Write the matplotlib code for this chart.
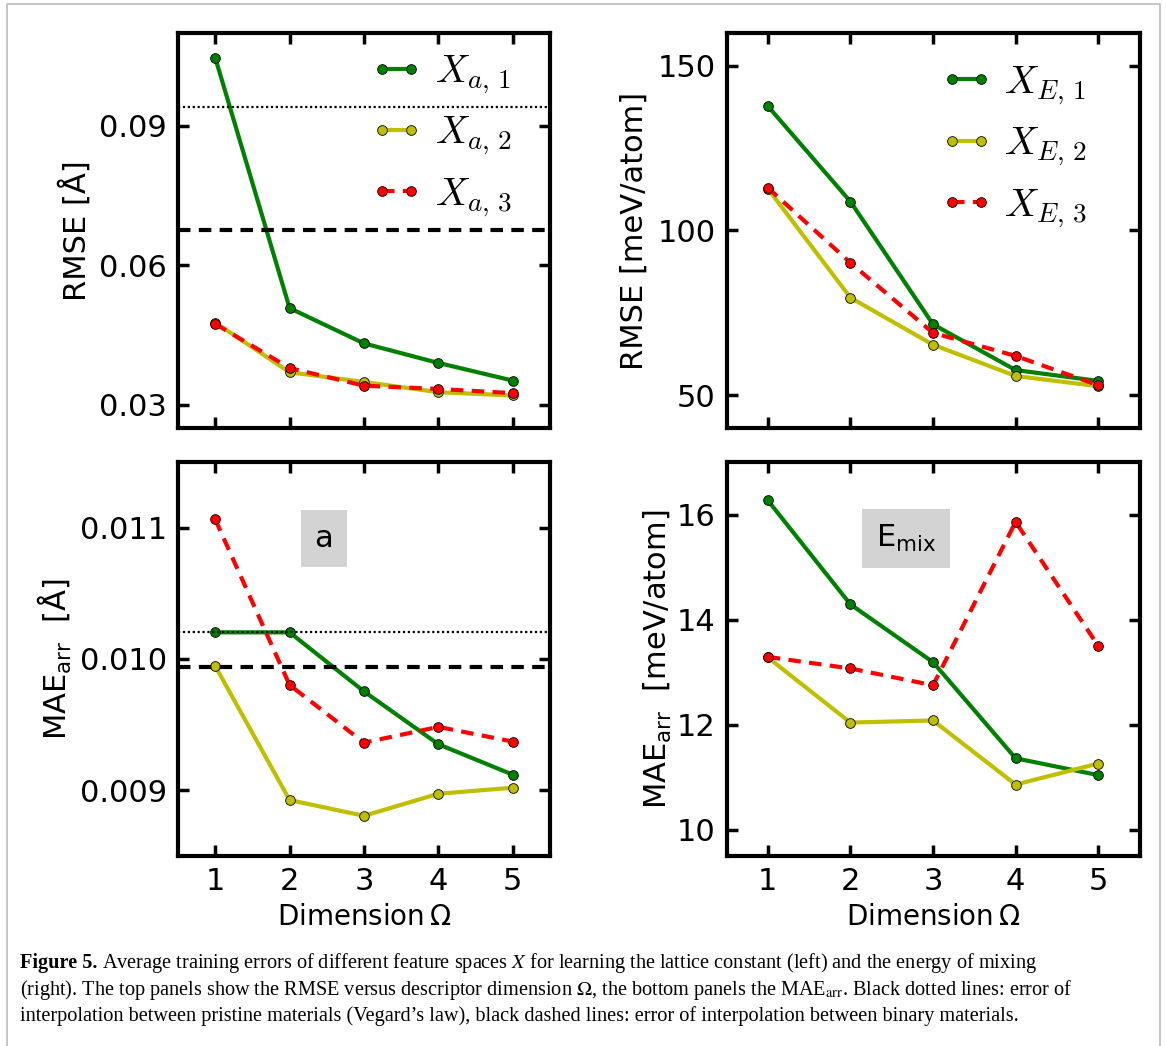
import matplotlib
matplotlib.use("Agg")
import matplotlib.pyplot as plt
from matplotlib.font_manager import FontProperties
from matplotlib.patches import Rectangle
from matplotlib.lines import Line2D
from matplotlib.legend_handler import HandlerLine2D

# ---------------- data ----------------
dims = [1, 2, 3, 4, 5]

rmse_a1 = [0.1047, 0.0508, 0.0432, 0.0390, 0.0352]
rmse_a2 = [0.0477, 0.0370, 0.0349, 0.0327, 0.0320]
rmse_a3 = [0.0474, 0.0379, 0.0341, 0.0334, 0.0325]
rmse_a_vegard = 0.0940
rmse_a_binary = 0.0677

rmse_E1 = [137.8, 108.8, 71.5, 57.6, 54.3]
rmse_E2 = [112.7, 79.6, 65.3, 55.8, 52.7]
rmse_E3 = [113.0, 90.2, 68.9, 61.9, 53.0]

mae_a1 = [0.010203, 0.010203, 0.009753, 0.009351, 0.009119]
mae_a2 = [0.009947, 0.008926, 0.008806, 0.008974, 0.009020]
mae_a3 = [0.011063, 0.009802, 0.009363, 0.009483, 0.009371]
mae_a_vegard = 0.010203
mae_a_binary = 0.009941

mae_E1 = [16.27, 14.29, 13.19, 11.36, 11.04]
mae_E2 = [13.28, 12.04, 12.08, 10.86, 11.26]
mae_E3 = [13.29, 13.07, 12.75, 15.86, 13.50]

labels_a = [r"$X_{a,\,1}$", r"$X_{a,\,2}$", r"$X_{a,\,3}$"]
labels_E = [r"$X_{E,\,1}$", r"$X_{E,\,2}$", r"$X_{E,\,3}$"]

yt_rmse_a = [0.03, 0.06, 0.09]
ytl_rmse_a = ["0.03", "0.06", "0.09"]
yt_rmse_E = [50, 100, 150]
ytl_rmse_E = ["50", "100", "150"]
yt_mae_a = [0.009, 0.010, 0.011]
ytl_mae_a = ["0.009", "0.010", "0.011"]
yt_mae_E = [10, 12, 14, 16]
ytl_mae_E = ["10", "12", "14", "16"]
xticklabels = ["1", "2", "3", "4", "5"]

caption_bold = "Figure 5."
caption_lines = [
    " Average training errors of different feature spaces $X$ for learning the lattice constant (left) and the energy of mixing",
    "(right). The top panels show the RMSE versus descriptor dimension $\\Omega$, the bottom panels the MAE$_{\\mathrm{arr}}$. Black dotted lines: error of",
    "interpolation between pristine materials (Vegard\u2019s law), black dashed lines: error of interpolation between binary materials.",
]

# ---------------- style ----------------
plt.rcParams["font.family"] = ["DejaVu Sans"]
plt.rcParams["mathtext.fontset"] = "dejavusans"

W, H = 1167, 1046
fig = plt.figure(figsize=(W / 100, H / 100), dpi=100)
fig.patch.set_facecolor("white")

def px_axes(l, r, t, b):
    return fig.add_axes([l / W, 1 - b / H, (r - l) / W, (b - t) / H])

ax_tl = px_axes(178, 550, 33, 428)
ax_bl = px_axes(178, 550, 462, 856)
ax_tr = px_axes(726.5, 1139.5, 33, 428)
ax_br = px_axes(726.5, 1139.5, 462, 856)

GREEN = (0.0, 0.5, 0.0)
YELLOW = (0.75, 0.75, 0.0)
RED = (1.0, 0.0, 0.0)

def series(ax, y1, y2, y3, labels):
    kw = dict(marker="o", markersize=7, markeredgecolor="black", markeredgewidth=0.6)
    ax.plot(dims, y1, color=GREEN, lw=3, label=labels[0], markerfacecolor=GREEN, **kw)
    ax.plot(dims, y2, color=YELLOW, lw=3, label=labels[1], markerfacecolor=YELLOW, **kw)
    ax.plot(dims, y3, color=RED, lw=3, ls=(0, (3, 2)), label=labels[2], markerfacecolor=RED, **kw)

def style(ax, yt, ytl, ylim, show_x):
    ax.set_xlim(0.5, 5.5)
    ax.set_ylim(*ylim)
    ax.set_xticks(dims)
    ax.set_yticks(yt)
    ax.set_yticklabels(ytl)
    if show_x:
        ax.set_xticklabels(xticklabels)
        ax.set_xlabel(r"Dimension$\,\Omega$", fontsize=20, labelpad=5)
    else:
        ax.set_xticklabels([])
    ax.tick_params(direction="in", length=8, width=2.5, top=True, right=True,
                   labelsize=22, pad=8)
    for s in ax.spines.values():
        s.set_linewidth(3)

# top-left
series(ax_tl, rmse_a1, rmse_a2, rmse_a3, labels_a)
ax_tl.axhline(rmse_a_vegard, color="black", lw=1.6, ls=(0, (1, 1.2)))
ax_tl.axhline(rmse_a_binary, color="black", lw=3, ls=(0, (3, 2)))
style(ax_tl, yt_rmse_a, ytl_rmse_a, (0.025, 0.110), False)
ax_tl.set_ylabel("RMSE [Å]", fontsize=22, labelpad=5)

# top-right
series(ax_tr, rmse_E1, rmse_E2, rmse_E3, labels_E)
style(ax_tr, yt_rmse_E, ytl_rmse_E, (40, 160), False)
ax_tr.set_ylabel("RMSE [meV/atom]", fontsize=22, labelpad=6)

# bottom-left
series(ax_bl, mae_a1, mae_a2, mae_a3, labels_a)
ax_bl.axhline(mae_a_vegard, color="black", lw=1.6, ls=(0, (1, 1.2)))
ax_bl.axhline(mae_a_binary, color="black", lw=3, ls=(0, (3, 2)))
style(ax_bl, yt_mae_a, ytl_mae_a, (0.0085, 0.0115), True)
ax_bl.set_ylabel(r"MAE$_{\mathrm{arr}}$  [Å]", fontsize=22, labelpad=4)

# bottom-right
series(ax_br, mae_E1, mae_E2, mae_E3, labels_E)
style(ax_br, yt_mae_E, ytl_mae_E, (9.5, 17), True)
ax_br.set_ylabel(r"MAE$_{\mathrm{arr}}$  [meV/atom]", fontsize=22, labelpad=2)

# legends
lp = FontProperties(size=28, math_fontfamily="cm")
hmap = {Line2D: HandlerLine2D(marker_pad=0.0, numpoints=2)}
ax_tl.legend(loc="upper right", bbox_to_anchor=(0.992, 1.04), prop=lp, frameon=False,
             handler_map=hmap, handlelength=0.75, handletextpad=0.6, labelspacing=0.45)
ax_tr.legend(loc="upper right", bbox_to_anchor=(0.958, 1.013), prop=lp, frameon=False,
             handler_map=hmap, handlelength=0.75, handletextpad=0.6, labelspacing=0.45)

# labels in grey boxes
box = dict(boxstyle="square,pad=0.45", facecolor="#d3d3d3", edgecolor="none")
ax_bl.text(0.392, 0.806, "a", transform=ax_bl.transAxes, fontsize=22,
           ha="center", va="center", bbox=box)
ax_br.text(0.435, 0.806, r"E$_{\mathrm{mix}}$", transform=ax_br.transAxes, fontsize=22,
           ha="center", va="center", bbox=box)

# outer grey frame
fig.patches.append(Rectangle((7 / W, -0.05), (1160 - 7) / W, 1 - 4 / H + 0.05,
                             transform=fig.transFigure, fill=False,
                             edgecolor="#bbbbbb", lw=1.2))

# caption
cap_fs = 14.6
fam = ["Liberation Serif"]
fig.canvas.draw()
r = fig.canvas.get_renderer()
y0 = 1 - 968 / H
bt = fig.text(20 / W, y0, caption_bold, fontsize=cap_fs, family=fam, weight="bold",
              va="baseline", ha="left", math_fontfamily="stix")
bb = bt.get_window_extent(r)
fig.text(bb.x1 / W, y0, caption_lines[0], fontsize=cap_fs, family=fam,
         va="baseline", ha="left", math_fontfamily="stix")
fig.text(20 / W, 1 - 994.5 / H, caption_lines[1], fontsize=cap_fs, family=fam,
         va="baseline", ha="left", math_fontfamily="stix")
fig.text(20 / W, 1 - 1021 / H, caption_lines[2], fontsize=cap_fs, family=fam,
         va="baseline", ha="left", math_fontfamily="stix")

fig.savefig("out.png", dpi=100)
